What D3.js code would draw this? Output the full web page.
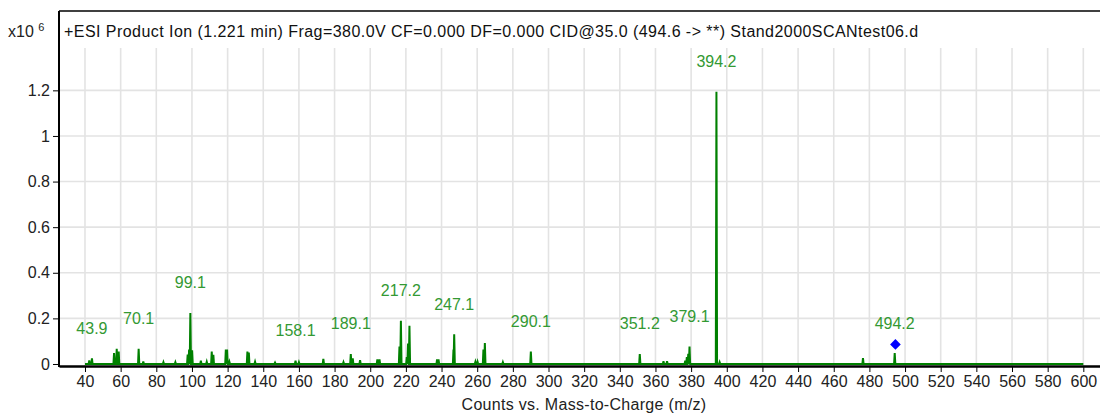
<!DOCTYPE html>
<html lang="en">
<head>
<meta charset="UTF-8">
<title>Product Ion Spectrum</title>
<script src="https://d3js.org/d3.v7.min.js"></script>
<style>
  body { margin: 0; background: #fff; }
  text { font-family: "Liberation Sans", Arial, sans-serif; }
</style>
</head>
<body>
<svg width="1100" height="414"></svg>
<script>
    // spectrum peaks (m/z, counts x10^6)
    let peakMz = [42.4, 43.9, 56.3, 57.8, 58.9, 70.1, 72.7, 84.0, 90.7,
        97.6, 98.4, 99.1, 100.1, 105.0, 108.3, 111.1, 112.0, 119.0, 119.7, 121.0,
        131.1, 131.9, 135.4, 146.6, 158.1, 160.0, 173.7, 185.0, 189.1, 190.2,
        194.3, 204.0, 205.2, 216.4, 217.2, 220.5, 221.2, 222.0, 237.5, 238.3,
        246.7, 247.1, 259.0, 260.2, 263.5, 264.3, 274.4, 290.1, 351.2, 364.5,
        366.5, 376.7, 377.6, 378.4, 379.1, 394.2, 396.0, 476.4, 494.2]
    let peakInt = [0.016, 0.025, 0.048, 0.067, 0.055, 0.067, 0.011, 0.008, 0.008,
        0.041, 0.063, 0.224, 0.06, 0.015, 0.01, 0.055, 0.04, 0.063, 0.063, 0.01,
        0.055, 0.05, 0.01, 0.006, 0.015, 0.008, 0.022, 0.008, 0.044, 0.025,
        0.017, 0.02, 0.02, 0.077, 0.19, 0.03, 0.09, 0.168, 0.02, 0.02,
        0.063, 0.13, 0.01, 0.01, 0.063, 0.092, 0.008, 0.055, 0.044, 0.012,
        0.012, 0.015, 0.03, 0.045, 0.077, 1.194, 0.008, 0.026, 0.048]
    let labelMz = [43.9, 70.1, 99.1, 158.1, 189.1, 217.2, 247.1, 290.1, 351.2, 379.1, 394.2, 494.2]
    let precursor = {mz: 494.6, value: 0.086}
    let xTicks = d3.range(40, 601, 20)
    let yTicks = [0, 0.2, 0.4, 0.6, 0.8, 1, 1.2]
    let titleText = "+ESI Product Ion (1.221 min) Frag=380.0V CF=0.000 DF=0.000 CID@35.0 (494.6 -> **) Stand2000SCANtest06.d"
    let xTitle = "Counts vs. Mass-to-Charge (m/z)"

    let svg = d3.select('svg')
    let plotLeft = 59, plotRight = 1104, plotTop = 11, plotBottom = 366, gridTop = 48

    let x = d3.scaleLinear().domain([25.42, 611.6]).range([plotLeft, plotRight])
    let y = d3.scaleLinear().domain([-0.0088, 1.548]).range([plotBottom, plotTop])

    // grid
    svg.append("g").selectAll("line").data(xTicks).enter().append("line")
        .attr("x1", d => x(d)).attr("x2", d => x(d))
        .attr("y1", gridTop).attr("y2", plotBottom)
        .attr("stroke", "#e3e3e3").attr("stroke-width", 1.6)
    svg.append("g").selectAll("line").data(yTicks.slice(1)).enter().append("line")
        .attr("x1", plotLeft).attr("x2", plotRight)
        .attr("y1", d => y(d)).attr("y2", d => y(d))
        .attr("stroke", "#e3e3e3").attr("stroke-width", 1.6)

    // spectrum profile
    let pts = [[40, 0]]
    peakMz.forEach(function(m, i) {
        pts.push([m - 0.35, 0], [m, peakInt[i]], [m + 0.35, 0])
    })
    pts.push([600, 0])
    svg.append("path")
        .attr("d", d3.line().x(d => x(d[0])).y(d => y(d[1]))(pts))
        .attr("fill", "none").attr("stroke", "#008000").attr("stroke-width", 2)

    // precursor marker
    svg.append("path")
        .attr("d", d3.symbol().type(d3.symbolDiamond2).size(72)())
        .attr("transform", `translate(${x(precursor.mz)},${y(precursor.value)})`)
        .attr("fill", "#0000ff")

    // peak labels
    svg.append("g").selectAll("text").data(labelMz).enter().append("text")
        .attr("x", d => x(d))
        .attr("y", d => y(peakInt[peakMz.indexOf(d)]) - 24.5)
        .attr("text-anchor", "middle")
        .attr("font-size", 16)
        .attr("fill", "#339933")
        .text(d => d.toFixed(1))

    // frame / axes
    svg.append("line").attr("x1", plotLeft).attr("x2", plotRight).attr("y1", plotTop).attr("y2", plotTop)
        .attr("stroke", "#000").attr("stroke-width", 1.5)
    svg.append("line").attr("x1", plotLeft).attr("x2", plotLeft).attr("y1", plotTop).attr("y2", plotBottom + 1)
        .attr("stroke", "#000").attr("stroke-width", 2)

    let xAxis = svg.append("g").attr("transform", `translate(0,${plotBottom})`)
        .call(d3.axisBottom(x).tickValues(xTicks).tickSize(6).tickPadding(4).tickSizeOuter(0))
    xAxis.select(".domain").attr("stroke-width", 2.5)
    xAxis.selectAll("text").attr("font-size", 16).attr("fill", "#222")
        .attr("font-family", "Liberation Sans, Arial, sans-serif")

    let yAxis = svg.append("g").attr("transform", `translate(${plotLeft},0)`)
        .call(d3.axisLeft(y).tickValues(yTicks).tickSize(6).tickPadding(3).tickSizeOuter(0)
            .tickFormat(d3.format("~g")))
    yAxis.select(".domain").remove()
    yAxis.selectAll("text").attr("font-size", 16).attr("fill", "#222")
        .attr("font-family", "Liberation Sans, Arial, sans-serif")

    // titles
    svg.append("text").attr("x", 64).attr("y", 37).attr("font-size", 16).attr("fill", "#111")
        .attr("letter-spacing", 0.45)
        .text(titleText)
    let mult = svg.append("text").attr("x", 8).attr("y", 37).attr("font-size", 16).attr("fill", "#222")
    mult.append("tspan").text("x10 ")
    mult.append("tspan").attr("font-size", 11).attr("dy", -6).text("6")
    svg.append("text").attr("x", 584).attr("y", 410).attr("text-anchor", "middle")
        .attr("font-size", 16).attr("fill", "#222").attr("letter-spacing", 0.3).text(xTitle)
</script>
</body>
</html>
